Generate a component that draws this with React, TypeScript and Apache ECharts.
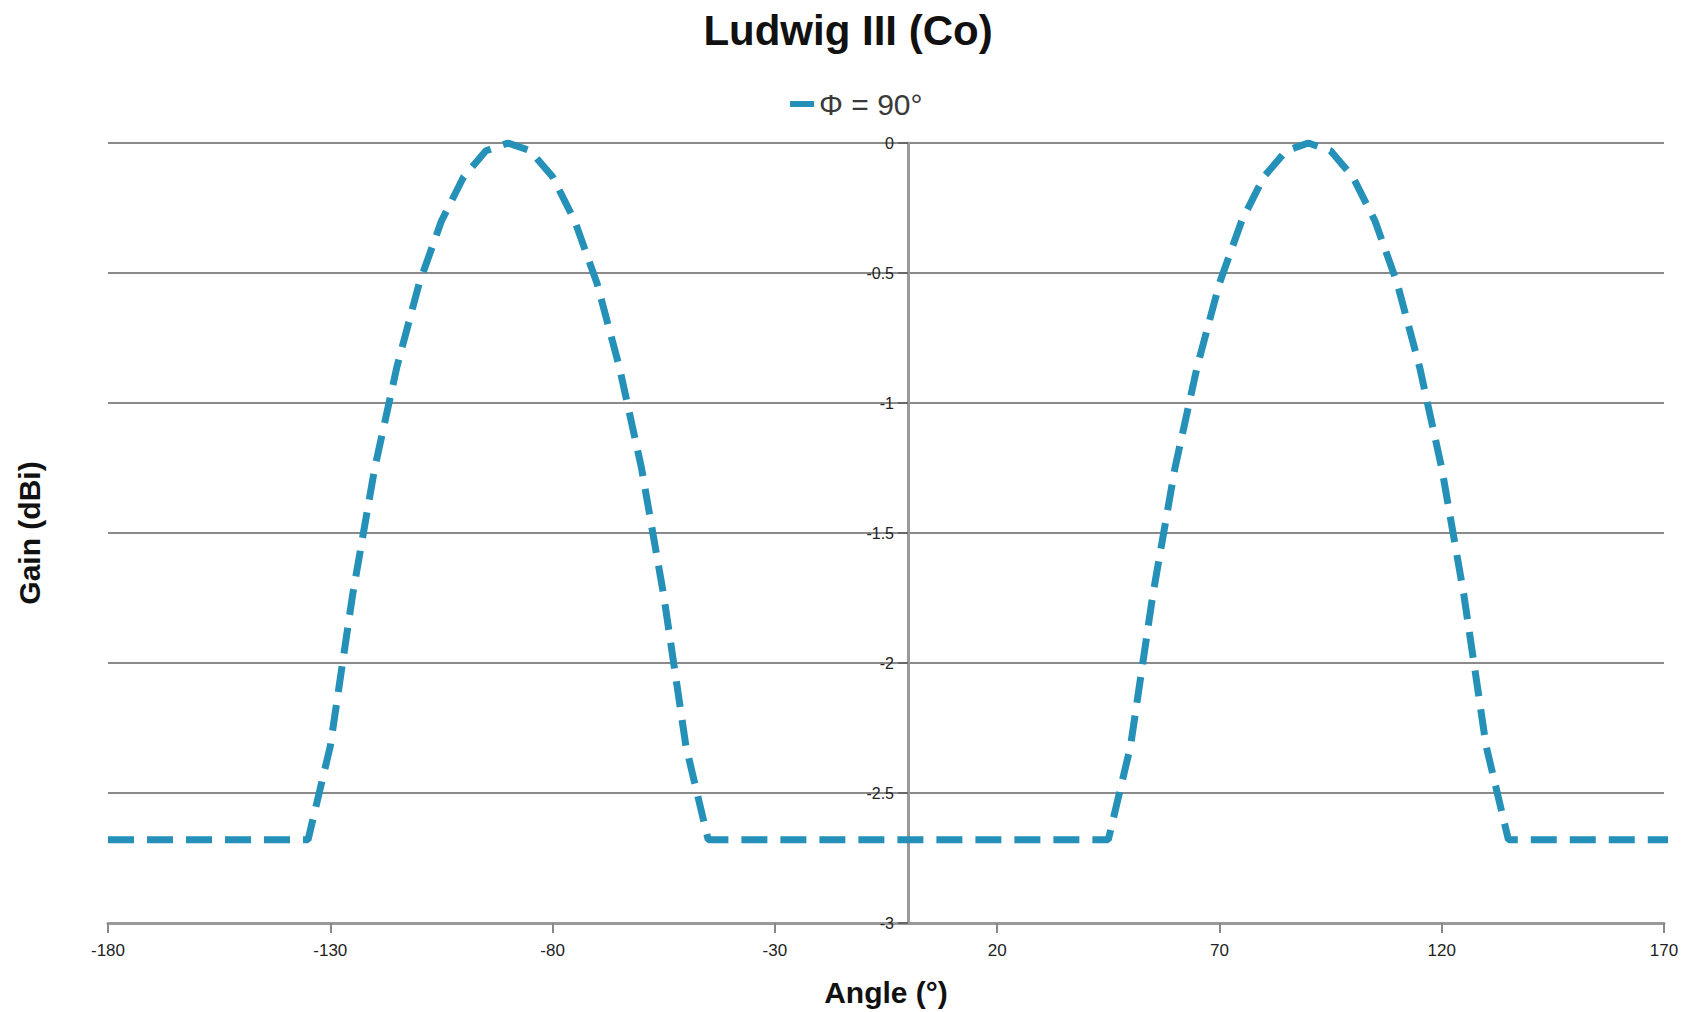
import React, { useEffect, useRef } from "react";
import * as echarts from "echarts";

const titleText = "Ludwig III (Co)";
const seriesName = "Φ = 90°";
const xName = "Angle (°)";
const yName = "Gain (dBi)";

const angles = [
  -180, -175, -170, -165, -160, -155, -150, -145, -140, -135,
  -130, -125, -120, -115, -110, -105, -100, -95, -90, -85,
  -80, -75, -70, -65, -60, -55, -50, -45, -40, -35,
  -30, -25, -20, -15, -10, -5, 0, 5, 10, 15,
  20, 25, 30, 35, 40, 45, 50, 55, 60, 65,
  70, 75, 80, 85, 90, 95, 100, 105, 110, 115,
  120, 125, 130, 135, 140, 145, 150, 155, 160, 165,
  170, 175, 180,
];

const gains = [
  -2.68, -2.68, -2.68, -2.68, -2.68, -2.68, -2.68, -2.68, -2.68, -2.68,
  -2.32, -1.74, -1.25, -0.86, -0.54, -0.3, -0.13, -0.03, 0, -0.03,
  -0.13, -0.3, -0.54, -0.86, -1.25, -1.74, -2.32, -2.68, -2.68, -2.68,
  -2.68, -2.68, -2.68, -2.68, -2.68, -2.68, -2.68, -2.68, -2.68, -2.68,
  -2.68, -2.68, -2.68, -2.68, -2.68, -2.68, -2.32, -1.74, -1.25, -0.86,
  -0.54, -0.3, -0.13, -0.03, 0, -0.03, -0.13, -0.3, -0.54, -0.86,
  -1.25, -1.74, -2.32, -2.68, -2.68, -2.68, -2.68, -2.68, -2.68, -2.68,
  -2.68, -2.68, -2.68,
];

const xMin = -180;
const xMax = 170;
const xStep = 50;
const yMin = -3;
const yMax = 0;
const yStep = 0.5;

export default function App() {
  const ref = useRef<HTMLDivElement>(null);

  useEffect(() => {
    if (!ref.current) return;
    const chart = echarts.init(ref.current, null, { renderer: "svg" });
    const font = "'Liberation Sans', Arial, sans-serif";
    const lineColor = "#2590b8";
    const gridLeft = 108;
    const gridRight = 32;
    const plotWidth = 1696 - gridLeft - gridRight;
    const zeroOffset = -Math.round(((0 - xMin) / (xMax - xMin)) * plotWidth);
    chart.setOption({
      animation: false,
      backgroundColor: "#ffffff",
      textStyle: { fontFamily: font },
      title: {
        text: titleText,
        left: "center",
        top: 4,
        textStyle: { fontSize: 42, fontWeight: "bold", color: "#111", fontFamily: font },
      },
      legend: {
        left: 785,
        top: 84,
        icon: "rect",
        itemWidth: 24,
        itemHeight: 6,
        textStyle: { fontSize: 30, color: "#3a3a3a", fontFamily: font },
        data: [seriesName],
      },
      grid: { left: gridLeft, right: gridRight, top: 143, bottom: 89, containLabel: false },
      xAxis: {
        type: "value",
        min: xMin,
        max: xMax,
        interval: xStep,
        name: xName,
        nameLocation: "middle",
        nameGap: 54,
        nameTextStyle: { fontSize: 30, fontWeight: "bold", color: "#111", fontFamily: font },
        axisLine: { onZero: false, lineStyle: { color: "#9a9a9a", width: 3 } },
        axisTick: { show: true, length: 10, inside: false, lineStyle: { color: "#888", width: 2 } },
        axisLabel: { fontSize: 17, color: "#222", margin: 19, fontFamily: font },
        splitLine: { show: false },
      },
      yAxis: [
        {
          type: "value",
          min: yMin,
          max: yMax,
          interval: yStep,
          position: "left",
          offset: zeroOffset,
          axisLine: { show: true, onZero: false, lineStyle: { color: "#9a9a9a", width: 3 } },
          axisTick: { show: true, length: 10, inside: false, lineStyle: { color: "#666", width: 2 } },
          axisLabel: { fontSize: 16, color: "#222", margin: 14, fontFamily: font },
          splitLine: { show: true, lineStyle: { color: "#8a8a8a", width: 2 } },
        },
        {
          type: "value",
          min: yMin,
          max: yMax,
          interval: yStep,
          position: "left",
          name: yName,
          nameLocation: "middle",
          nameGap: 64,
          nameTextStyle: { fontSize: 30, fontWeight: "bold", color: "#111", fontFamily: font },
          axisLine: { show: false, onZero: false },
          axisTick: { show: false },
          axisLabel: { show: false },
          splitLine: { show: false },
        },
      ],
      series: [
        {
          name: seriesName,
          type: "line",
          yAxisIndex: 0,
          data: angles.map((a, i) => [a, gains[i]]),
          showSymbol: false,
          symbol: "none",
          clip: true,
          color: lineColor,
          lineStyle: { color: lineColor, width: 7, type: [26, 13] },
          itemStyle: { color: lineColor },
        },
      ],
    });
    return () => chart.dispose();
  }, []);

  return (
    <div
      ref={ref}
      style={{ position: "fixed", left: 0, top: 0, width: 1696, height: 1012 }}
    />
  );
}
